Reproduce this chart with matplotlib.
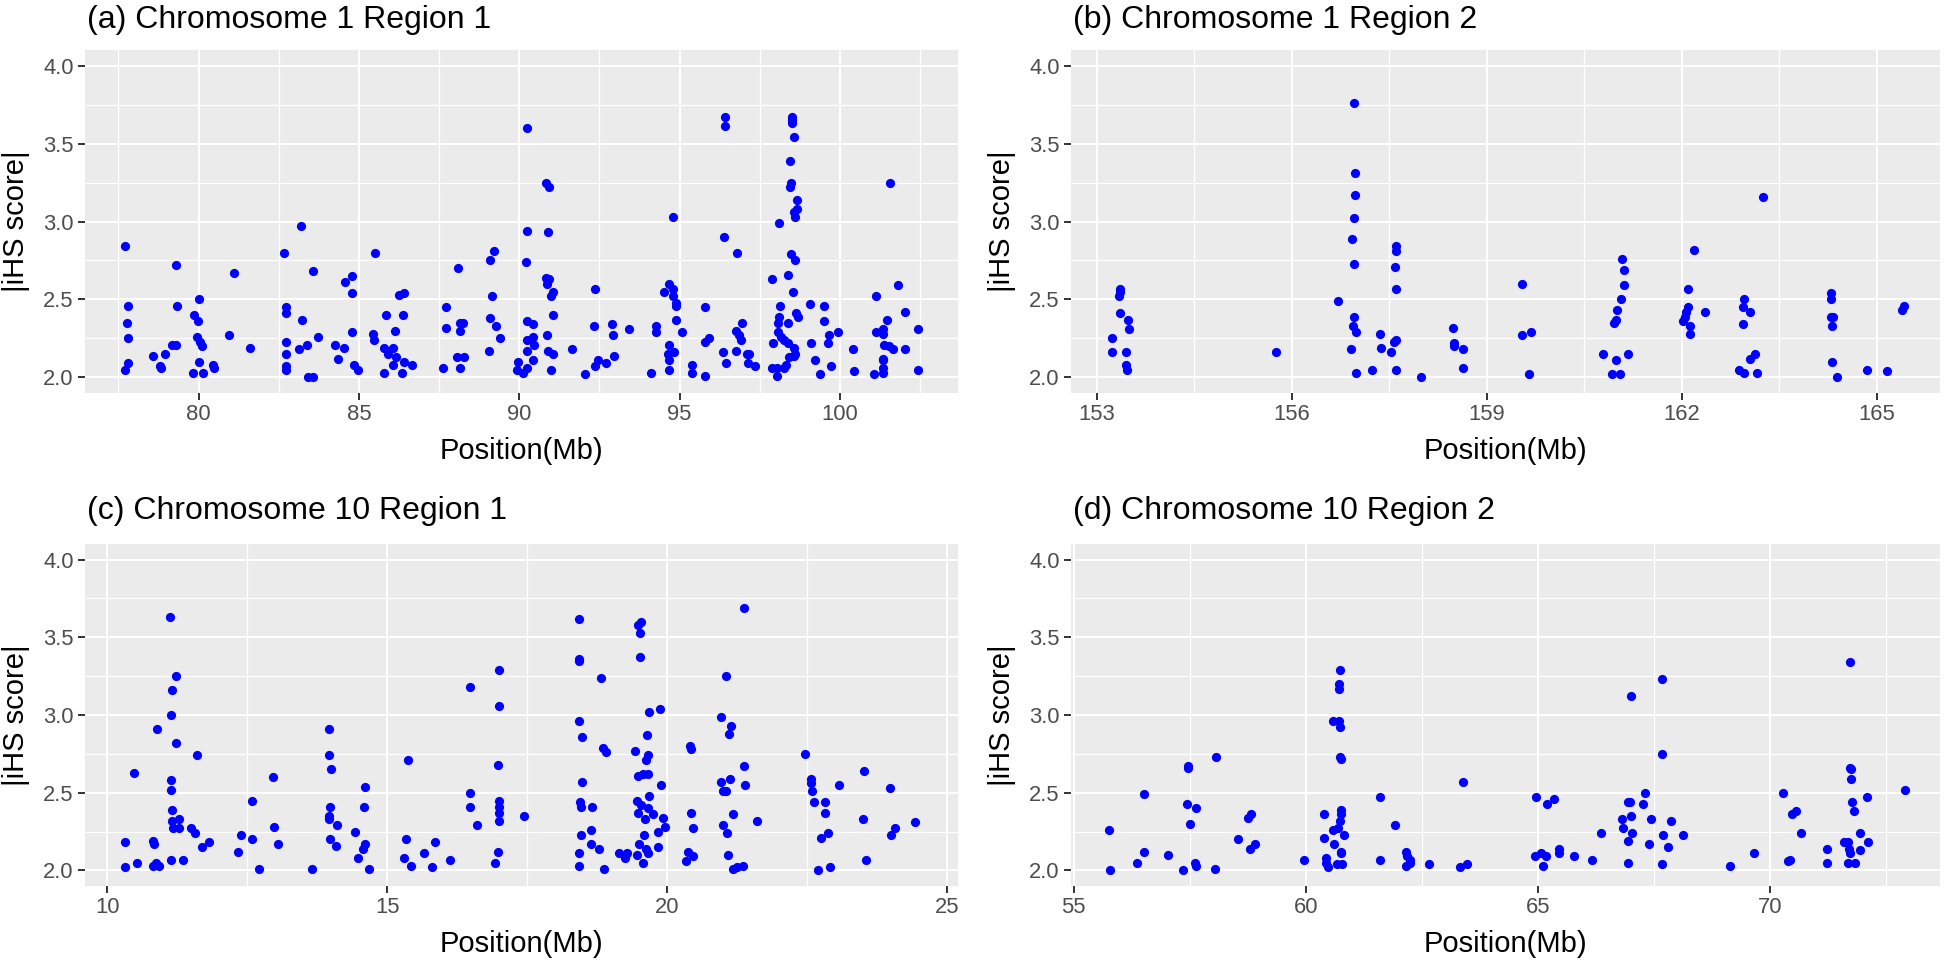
import matplotlib
matplotlib.use("Agg")
import matplotlib.pyplot as plt
from matplotlib.ticker import FormatStrFormatter

plt.rcParams['font.family'] = ['Liberation Sans', 'DejaVu Sans']

# ---------------- data ----------------
titles = ["(a) Chromosome 1 Region 1", "(b) Chromosome 1 Region 2",
          "(c) Chromosome 10 Region 1", "(d) Chromosome 10 Region 2"]
x_label = "Position(Mb)"
y_label = "|iHS score|"

a_pos = [77.71, 77.79, 77.76, 77.79, 77.79, 77.72, 78.59, 78.80, 78.82, 78.94, 79.16, 79.30, 79.30, 79.34,
         79.82, 79.87, 79.97, 80.03, 79.94, 80.05, 80.12, 80.03, 80.14, 80.46, 80.49, 80.94, 81.11, 81.60,
         82.67, 83.20, 82.72, 82.73, 82.72, 82.72, 82.72, 82.72, 83.22, 83.14, 83.38, 83.56, 83.73, 83.41,
         83.58, 84.27, 84.35, 84.55, 84.57, 84.78, 84.79, 84.77, 84.86, 84.98, 85.50, 85.43, 85.48, 85.83,
         85.79, 85.90, 85.77, 86.07, 86.13, 86.16, 86.07, 86.26, 86.42, 86.36, 86.42, 86.34, 86.66, 87.63,
         87.72, 87.72, 88.10, 88.06, 88.15, 88.15, 88.26, 88.15, 88.28, 89.09, 89.21, 89.15, 89.08, 89.28,
         89.39, 89.05, 90.23, 90.24, 90.20, 90.24, 90.44, 90.24, 90.44, 90.45, 90.25, 89.97, 89.94, 90.13,
         90.24, 90.44, 90.83, 90.92, 90.90, 90.83, 90.94, 90.85, 91.00, 91.06, 91.06, 90.88, 90.91, 91.06,
         91.00, 91.63, 92.35, 92.33, 92.05, 92.37, 92.47, 92.71, 92.89, 92.91, 92.96, 93.43, 94.26, 94.27,
         94.11, 94.78, 94.68, 94.78, 94.52, 94.79, 94.88, 94.88, 94.88, 95.07, 94.68, 94.65, 94.83, 94.68,
         94.67, 95.38, 95.39, 95.79, 95.79, 95.79, 95.93, 96.42, 96.42, 96.38, 96.79, 96.34, 96.44, 96.75,
         96.77, 96.85, 96.91, 96.96, 97.09, 97.15, 97.14, 97.34, 97.89, 97.91, 97.89, 98.04, 98.05, 98.24,
         98.33, 98.10, 98.50, 98.50, 98.50, 98.57, 98.45, 98.47, 98.45, 98.66, 98.66, 98.56, 98.60, 98.47,
         98.60, 98.39, 98.54, 98.14, 98.10, 98.08, 98.38, 98.62, 98.70, 98.07, 98.17, 98.27, 98.38, 98.57,
         98.60, 98.41, 98.56, 99.07, 99.09, 99.21, 99.37, 99.50, 99.50, 99.65, 99.62, 99.72, 99.95, 100.40,
         100.45, 101.06, 101.11, 101.11, 101.33, 101.35, 101.47, 101.56, 101.37, 101.53, 101.64, 101.35,
         101.34, 101.35, 101.34, 101.82, 102.03, 102.03, 102.43, 102.43]
a_ihs = [2.84, 2.46, 2.35, 2.25, 2.09, 2.05, 2.14, 2.07, 2.06, 2.15, 2.21, 2.21, 2.72, 2.46,
         2.03, 2.40, 2.36, 2.50, 2.26, 2.23, 2.20, 2.10, 2.03, 2.08, 2.06, 2.27, 2.67, 2.19,
         2.80, 2.97, 2.45, 2.41, 2.23, 2.15, 2.07, 2.05, 2.37, 2.18, 2.21, 2.68, 2.26, 2.00,
         2.00, 2.21, 2.12, 2.19, 2.61, 2.65, 2.54, 2.29, 2.08, 2.05, 2.80, 2.28, 2.24, 2.40,
         2.19, 2.15, 2.03, 2.19, 2.30, 2.13, 2.08, 2.53, 2.54, 2.40, 2.10, 2.03, 2.08, 2.06,
         2.45, 2.32, 2.70, 2.13, 2.06, 2.35, 2.35, 2.30, 2.13, 2.75, 2.81, 2.52, 2.38, 2.33,
         2.25, 2.17, 3.60, 2.94, 2.74, 2.36, 2.34, 2.24, 2.26, 2.21, 2.17, 2.10, 2.05, 2.03,
         2.06, 2.11, 3.25, 3.22, 2.93, 2.64, 2.63, 2.60, 2.52, 2.55, 2.40, 2.27, 2.17, 2.15,
         2.05, 2.18, 2.57, 2.33, 2.02, 2.07, 2.11, 2.09, 2.34, 2.27, 2.14, 2.31, 2.33, 2.29,
         2.03, 3.03, 2.60, 2.57, 2.55, 2.52, 2.48, 2.46, 2.37, 2.29, 2.21, 2.15, 2.16, 2.11,
         2.05, 2.08, 2.03, 2.45, 2.01, 2.23, 2.25, 3.67, 3.61, 2.90, 2.80, 2.16, 2.09, 2.17,
         2.30, 2.27, 2.24, 2.35, 2.15, 2.15, 2.09, 2.07, 2.63, 2.22, 2.06, 2.06, 2.01, 2.06,
         2.08, 2.99, 3.67, 3.65, 3.63, 3.54, 3.39, 3.25, 3.22, 3.14, 3.08, 3.06, 3.03, 2.79,
         2.75, 2.66, 2.55, 2.46, 2.39, 2.35, 2.35, 2.41, 2.39, 2.29, 2.26, 2.24, 2.22, 2.19,
         2.15, 2.13, 2.14, 2.47, 2.22, 2.11, 2.02, 2.46, 2.36, 2.27, 2.22, 2.07, 2.29, 2.18,
         2.04, 2.02, 2.52, 2.29, 2.28, 2.31, 2.37, 3.25, 2.21, 2.20, 2.18, 2.12,
         2.11, 2.06, 2.03, 2.59, 2.42, 2.18, 2.31, 2.05]

b_pos = [153.35, 153.36, 153.34, 153.36, 153.47, 153.49, 153.23, 153.23, 153.44, 153.45, 153.46, 155.76,
         156.95, 156.71, 156.97, 156.97, 156.95, 156.92, 156.95, 156.96, 156.94, 156.99, 156.91, 156.99,
         157.23, 157.36, 157.37, 157.52, 157.60, 157.60, 157.59, 157.60, 157.57, 157.60, 157.60, 157.98,
         158.47, 158.49, 158.49, 158.63, 158.63, 159.54, 159.54, 159.67, 159.65, 160.79, 160.99, 161.17,
         160.92, 161.05, 161.08, 161.11, 161.11, 161.06, 161.00, 160.99, 160.95, 162.19, 162.09, 162.09,
         162.06, 162.05, 162.02, 162.35, 162.13, 162.12, 163.25, 162.95, 162.94, 163.05, 162.94, 163.13,
         163.05, 162.87, 162.95, 163.15, 164.29, 164.29, 164.29, 164.33, 164.31, 164.31, 164.38, 164.84,
         165.15, 165.41, 165.39]
b_ihs = [2.57, 2.55, 2.52, 2.41, 2.37, 2.31, 2.25, 2.16, 2.16, 2.08, 2.05, 2.16,
         3.76, 2.49, 3.31, 3.17, 3.02, 2.89, 2.73, 2.39, 2.33, 2.29, 2.18, 2.03,
         2.05, 2.28, 2.19, 2.16, 2.84, 2.81, 2.71, 2.57, 2.23, 2.24, 2.05, 2.00,
         2.32, 2.22, 2.20, 2.18, 2.06, 2.60, 2.27, 2.29, 2.02, 2.15, 2.11, 2.15,
         2.02, 2.02, 2.76, 2.69, 2.59, 2.50, 2.43, 2.37, 2.35, 2.82, 2.57, 2.45,
         2.42, 2.39, 2.36, 2.42, 2.33, 2.28, 3.16, 2.50, 2.45, 2.42, 2.34, 2.15,
         2.12, 2.05, 2.03, 2.03, 2.54, 2.50, 2.39, 2.39, 2.33, 2.10, 2.00, 2.05,
         2.04, 2.46, 2.43]

c_pos = [10.31, 10.32, 10.52, 10.47, 10.88, 10.81, 10.84, 10.81, 10.86, 10.92, 11.11, 11.23, 11.15, 11.13,
         11.23, 11.14, 11.14, 11.15, 11.15, 11.28, 11.17, 11.28, 11.14, 11.35, 11.50, 11.56, 11.60, 11.69,
         11.81, 12.33, 12.39, 12.58, 12.58, 12.71, 12.96, 12.98, 13.04, 13.66, 13.96, 13.96, 13.99, 13.98,
         13.95, 13.96, 14.10, 13.98, 14.08, 14.42, 14.48, 14.60, 14.58, 14.60, 14.57, 14.67, 15.36, 15.34,
         15.30, 15.42, 15.65, 15.85, 15.79, 16.12, 16.48, 16.47, 16.47, 16.60, 17.00, 17.00, 16.98, 16.99,
         16.99, 16.99, 16.99, 16.98, 16.92, 17.44, 18.42, 18.43, 18.43, 18.81, 18.43, 18.48, 18.85, 18.91,
         18.48, 18.44, 18.45, 18.65, 18.63, 18.45, 18.63, 18.78, 18.43, 18.42, 18.87, 19.13, 19.25, 19.28,
         19.47, 19.53, 19.51, 19.51, 19.67, 19.87, 19.63, 19.43, 19.65, 19.62, 19.47, 19.57, 19.65, 19.89,
         19.67, 19.45, 19.53, 19.65, 19.47, 19.75, 19.92, 19.60, 19.95, 19.83, 19.59, 19.50, 19.62, 19.66,
         19.83, 19.46, 19.56, 20.41, 20.42, 20.42, 20.45, 20.36, 20.45, 20.33, 21.36, 21.05, 20.96, 21.14,
         21.10, 21.36, 20.96, 21.12, 21.38, 21.00, 21.05, 21.17, 21.60, 21.00, 21.07, 21.08, 21.17, 21.24,
         21.35, 22.46, 22.56, 22.56, 22.58, 22.62, 22.81, 22.82, 22.87, 22.75, 22.69, 22.90, 23.07, 23.51,
         23.50, 23.54, 23.97, 24.06, 23.99, 24.43]
c_ihs = [2.18, 2.02, 2.05, 2.63, 2.91, 2.19, 2.17, 2.03, 2.05, 2.03, 3.63, 3.25, 3.16, 3.00,
         2.82, 2.58, 2.52, 2.39, 2.32, 2.33, 2.27, 2.27, 2.07, 2.07, 2.27, 2.24, 2.74, 2.15,
         2.18, 2.12, 2.23, 2.45, 2.20, 2.01, 2.60, 2.28, 2.17, 2.01, 2.91, 2.74, 2.65, 2.41,
         2.35, 2.33, 2.29, 2.20, 2.16, 2.25, 2.08, 2.54, 2.41, 2.17, 2.14, 2.01, 2.71, 2.20,
         2.08, 2.03, 2.11, 2.18, 2.02, 2.07, 3.18, 2.50, 2.41, 2.29, 3.29, 3.06, 2.68, 2.45,
         2.41, 2.37, 2.32, 2.12, 2.05, 2.35, 3.62, 3.36, 3.35, 3.24, 2.96, 2.86, 2.79, 2.76,
         2.57, 2.44, 2.41, 2.41, 2.26, 2.23, 2.17, 2.14, 2.11, 2.03, 2.01, 2.11, 2.08, 2.11,
         3.58, 3.60, 3.53, 3.37, 3.02, 3.04, 2.87, 2.77, 2.74, 2.71, 2.61, 2.62, 2.62, 2.55,
         2.48, 2.45, 2.42, 2.40, 2.37, 2.36, 2.34, 2.33, 2.28, 2.25, 2.23, 2.17, 2.14, 2.11,
         2.15, 2.10, 2.05, 2.80, 2.78, 2.37, 2.27, 2.12, 2.09, 2.06, 3.69, 3.25, 2.99, 2.93,
         2.88, 2.67, 2.57, 2.59, 2.55, 2.51, 2.51, 2.36, 2.32, 2.29, 2.24, 2.10, 2.01, 2.02,
         2.03, 2.75, 2.59, 2.56, 2.51, 2.44, 2.44, 2.37, 2.24, 2.21, 2.00, 2.02, 2.55, 2.64,
         2.33, 2.07, 2.53, 2.27, 2.23, 2.31]

d_pos = [55.76, 55.78, 56.36, 56.51, 56.51, 57.02, 57.36, 57.46, 57.47, 57.45, 57.63, 57.50, 57.62, 57.63,
         58.05, 58.06, 58.53, 58.75, 58.81, 58.80, 58.91, 59.97, 60.40, 60.40, 60.43, 60.43, 60.47, 60.68,
         60.79, 60.58, 60.74, 60.71, 60.71, 60.71, 60.74, 60.74, 60.75, 60.76, 60.76, 60.74, 60.59, 60.70,
         60.83, 60.61, 60.76, 60.76, 61.59, 61.59, 61.92, 62.17, 62.19, 62.25, 62.17, 62.25, 62.66, 63.32,
         63.48, 63.39, 64.96, 65.21, 65.35, 64.95, 65.08, 65.17, 65.11, 65.45, 65.45, 65.78, 66.16, 66.36,
         66.82, 66.84, 66.95, 66.98, 67.00, 67.03, 66.94, 66.94, 67.00, 67.31, 67.27, 67.44, 67.40, 67.67,
         67.67, 67.69, 67.67, 67.87, 67.81, 68.14, 69.14, 69.67, 70.29, 70.47, 70.56, 70.68, 70.39, 70.44,
         71.23, 71.23, 71.72, 71.73, 71.75, 71.75, 71.77, 71.82, 71.60, 71.68, 71.70, 71.72, 71.68, 71.84,
         71.94, 71.94, 72.09, 72.12, 72.91]
d_ihs = [2.26, 2.00, 2.05, 2.49, 2.12, 2.10, 2.00, 2.67, 2.66, 2.43, 2.40, 2.30, 2.05, 2.03,
         2.01, 2.73, 2.20, 2.34, 2.36, 2.14, 2.17, 2.07, 2.36, 2.21, 2.08, 2.05, 2.02, 2.04,
         2.04, 2.96, 3.29, 3.20, 3.17, 2.96, 2.92, 2.73, 2.72, 2.39, 2.36, 2.32, 2.26, 2.27,
         2.23, 2.17, 2.12, 2.11, 2.47, 2.07, 2.29, 2.12, 2.09, 2.07, 2.03, 2.05, 2.04, 2.02,
         2.04, 2.57, 2.47, 2.43, 2.46, 2.09, 2.11, 2.09, 2.03, 2.14, 2.11, 2.09, 2.07, 2.24,
         2.33, 2.27, 2.44, 2.44, 2.35, 2.24, 2.19, 2.05, 3.12, 2.50, 2.43, 2.33, 2.17, 3.23,
         2.75, 2.23, 2.04, 2.32, 2.15, 2.23, 2.03, 2.11, 2.50, 2.36, 2.38, 2.24, 2.06, 2.07,
         2.14, 2.05, 3.34, 2.66, 2.65, 2.59, 2.44, 2.38, 2.18, 2.18, 2.14, 2.11, 2.05, 2.05,
         2.13, 2.24, 2.47, 2.18, 2.52]

y_ticks = [2.0, 2.5, 3.0, 3.5, 4.0]

# ---------------- layout / style ----------------
W, H = 1946, 961
fig = plt.figure(figsize=(W / 100, H / 100), dpi=100)

def box(l, t, r, b):
    return [l / W, 1 - b / H, (r - l) / W, (b - t) / H]

# (rect, x, y, xlim, major ticks, title baseline in px from top)
specs = [
    (box(85, 50, 958, 393), a_pos, a_ihs, (76.46, 103.68), [80, 85, 90, 95, 100], 28),
    (box(1071, 50, 1940, 393), b_pos, b_ihs, (152.60, 165.97), [153, 156, 159, 162, 165], 28),
    (box(85, 544, 958, 886), c_pos, c_ihs, (9.60, 25.19), [10, 15, 20, 25], 519),
    (box(1071, 544, 1940, 886), d_pos, d_ihs, (54.94, 73.67), [55, 60, 65, 70], 519),
]

for title, (rect, xs, ys, xl, xt, tb) in zip(titles, specs):
    ax = fig.add_axes(rect)
    ax.set_facecolor('#EBEBEB')
    for s in ax.spines.values():
        s.set_visible(False)
    ax.set_xlim(*xl)
    ax.set_ylim(1.9, 4.1)
    ax.set_xticks(xt)
    step = xt[1] - xt[0]
    minors = [v + step / 2 for v in [xt[0] - step] + xt]
    ax.set_xticks([m for m in minors if xl[0] < m < xl[1]], minor=True)
    ax.set_yticks(y_ticks)
    ax.set_yticks([v + 0.25 for v in y_ticks[:-1]], minor=True)
    ax.yaxis.set_major_formatter(FormatStrFormatter('%.1f'))
    ax.grid(which='major', color='white', linewidth=1.45)
    ax.grid(which='minor', color='white', linewidth=0.9)
    ax.set_axisbelow(True)
    ax.tick_params(which='minor', length=0)
    ax.tick_params(which='major', length=5.2, width=1.4, color='#333333',
                   labelcolor='#4D4D4D', labelsize=15.8, pad=3)
    ax.scatter(xs, ys, s=44, c='#0000FF', linewidths=0, zorder=3)
    pw = rect[2] * W
    ph = rect[3] * H
    ax.set_xlabel(x_label, fontsize=21, color='black', va='baseline')
    ax.xaxis.set_label_coords(0.5, -66 / ph)
    ax.set_ylabel(y_label, fontsize=21, color='black', va='center')
    ax.yaxis.set_label_coords(-69 / pw, 0.5)
    fig.text(rect[0] + 2 / W, 1 - tb / H, title, fontsize=23, color='black',
             ha='left', va='baseline')

fig.savefig('out.png', dpi=100)
